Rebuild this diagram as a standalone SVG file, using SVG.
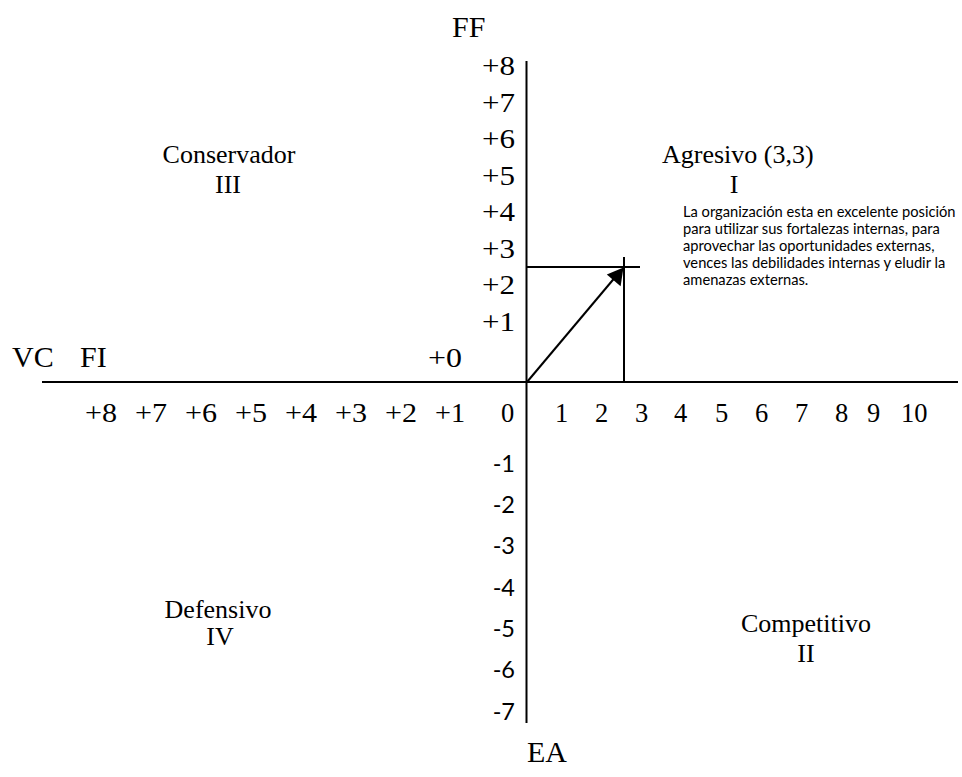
<svg xmlns="http://www.w3.org/2000/svg" width="962" height="777" viewBox="0 0 962 777">
<defs>
<style>
.s{font-family:"Liberation Serif","Times New Roman",serif;fill:#000}
.big{font-size:30px}
.q{font-size:26px;text-anchor:middle}
.n{font-size:26.5px}
.ne{font-size:26.5px;text-anchor:end}
.neg{font-family:Lato,"Liberation Sans",sans-serif;font-size:23.5px;text-anchor:end;fill:#000}
.p{font-family:Lato,"Liberation Sans",sans-serif;font-size:14.7px;fill:#000}
.ln{stroke:#000;stroke-width:2;fill:none}
</style>
</defs>
<g id="connectors">
<line class="ln" x1="42" y1="382" x2="958" y2="382"/>
<line class="ln" x1="526.5" y1="61" x2="526.5" y2="723"/>
<line class="ln" x1="526" y1="267" x2="640" y2="267"/>
<line class="ln" x1="624" y1="257" x2="624" y2="383"/>
<line class="ln" x1="527" y1="382" x2="617" y2="275" stroke-width="2.5"/>
<path d="M623.5,267.5 L620.6,286.2 L606.8,274.6 z" fill="#000"/>
</g>
<g id="axis-labels">
<text class="s big" x="452" y="37">FF</text>
<text class="s big" x="12" y="367">VC</text>
<text class="s big" x="80" y="367">FI</text>
<text class="s big" x="527" y="762">EA</text>
</g>
<g id="y-positive">
<text class="s ne" x="515" y="75" textLength="33" lengthAdjust="spacingAndGlyphs">+8</text>
<text class="s ne" x="515" y="111.5" textLength="33" lengthAdjust="spacingAndGlyphs">+7</text>
<text class="s ne" x="515" y="148" textLength="33" lengthAdjust="spacingAndGlyphs">+6</text>
<text class="s ne" x="515" y="184.5" textLength="33" lengthAdjust="spacingAndGlyphs">+5</text>
<text class="s ne" x="515" y="221" textLength="33" lengthAdjust="spacingAndGlyphs">+4</text>
<text class="s ne" x="515" y="257.5" textLength="33" lengthAdjust="spacingAndGlyphs">+3</text>
<text class="s ne" x="515" y="294" textLength="33" lengthAdjust="spacingAndGlyphs">+2</text>
<text class="s ne" x="515" y="330.5" textLength="33" lengthAdjust="spacingAndGlyphs">+1</text>
<text class="s ne" x="462" y="367" textLength="34" lengthAdjust="spacingAndGlyphs">+0</text>
</g>
<g id="x-negative">
<text class="s n" x="85" y="422" textLength="32" lengthAdjust="spacingAndGlyphs">+8</text>
<text class="s n" x="135" y="422" textLength="32" lengthAdjust="spacingAndGlyphs">+7</text>
<text class="s n" x="185" y="422" textLength="32" lengthAdjust="spacingAndGlyphs">+6</text>
<text class="s n" x="235" y="422" textLength="32" lengthAdjust="spacingAndGlyphs">+5</text>
<text class="s n" x="285" y="422" textLength="32" lengthAdjust="spacingAndGlyphs">+4</text>
<text class="s n" x="335" y="422" textLength="32" lengthAdjust="spacingAndGlyphs">+3</text>
<text class="s n" x="385" y="422" textLength="32" lengthAdjust="spacingAndGlyphs">+2</text>
<text class="s n" x="435" y="422" textLength="30" lengthAdjust="spacingAndGlyphs">+1</text>
</g>
<g id="x-positive">
<text class="s n" x="501" y="422">0</text>
<text class="s n" x="555" y="422">1</text>
<text class="s n" x="595" y="422">2</text>
<text class="s n" x="635" y="422">3</text>
<text class="s n" x="674" y="422">4</text>
<text class="s n" x="715" y="422">5</text>
<text class="s n" x="755" y="422">6</text>
<text class="s n" x="795" y="422">7</text>
<text class="s n" x="835" y="422">8</text>
<text class="s n" x="867" y="422">9</text>
<text class="s n" x="901" y="422">10</text>
</g>
<g id="y-negative">
<text class="neg" x="515" y="472">-1</text>
<text class="neg" x="515" y="513">-2</text>
<text class="neg" x="515" y="554">-3</text>
<text class="neg" x="515" y="596">-4</text>
<text class="neg" x="515" y="637">-5</text>
<text class="neg" x="515" y="678">-6</text>
<text class="neg" x="515" y="720">-7</text>
</g>
<g id="q-conservador">
<text class="s q" x="229" y="163">Conservador</text>
<text class="s q" x="228" y="193">III</text>
</g>
<g id="q-agresivo">
<text class="s" x="662" y="163" font-size="26">Agresivo (3,3)</text>
<text class="s q" x="734" y="193">I</text>
<text class="p" x="683" y="217">La organización esta en excelente posición</text>
<text class="p" x="683" y="234">para utilizar sus fortalezas internas, para</text>
<text class="p" x="683" y="251">aprovechar las oportunidades externas,</text>
<text class="p" x="683" y="268">vences las debilidades internas y eludir la</text>
<text class="p" x="683" y="285">amenazas externas.</text>
</g>
<g id="q-defensivo">
<text class="s q" x="218" y="618">Defensivo</text>
<text class="s q" x="220" y="645">IV</text>
</g>
<g id="q-competitivo">
<text class="s q" x="806" y="632">Competitivo</text>
<text class="s q" x="806" y="662">II</text>
</g>
</svg>
